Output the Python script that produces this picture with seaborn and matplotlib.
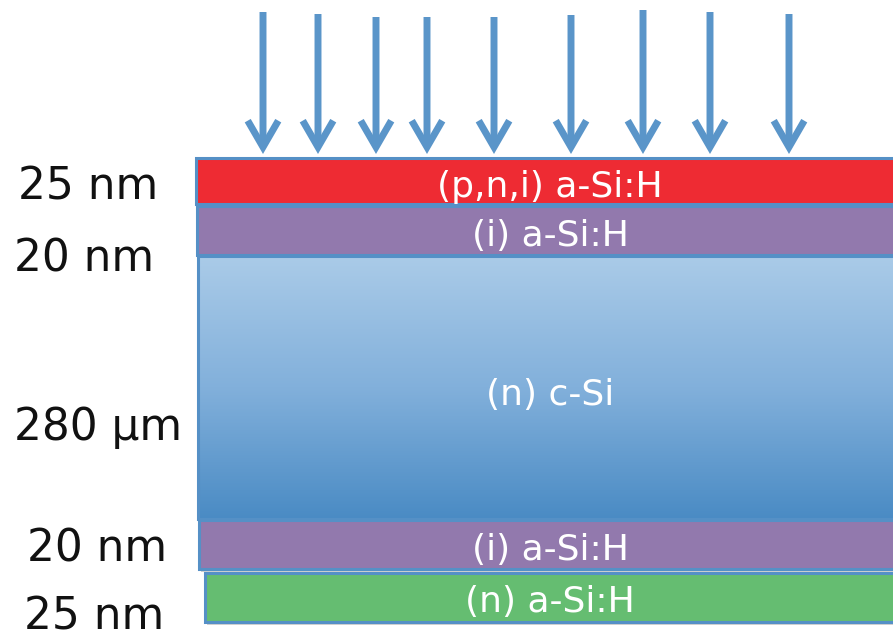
import numpy as np
import matplotlib
matplotlib.use("Agg")
import matplotlib.pyplot as plt
import seaborn as sns
from matplotlib.patches import Rectangle
from matplotlib.colors import LinearSegmentedColormap

# ---- data ----
layer_names = ["(p,n,i) a-Si:H", "(i) a-Si:H", "(n) c-Si", "(i) a-Si:H", "(n) a-Si:H"]
thickness_labels = ["25 nm", "20 nm", "280 µm", "20 nm", "25 nm"]
layer_colors = ["#ee2b33", "#9279ad", "gradient", "#9279ad", "#65bd71"]
layer_top = [158, 206, 256, 520, 573]
layer_bottom = [204, 255, 519, 569, 622]
layer_left = [196, 197, 198, 199, 205]
layer_text_baseline = [197, 246, 405, 560, 612]
label_x = [88, 84, 98, 97, 94]
label_baseline = [200, 271, 440, 561, 630]
arrow_x = [263, 318, 376, 427, 494, 571, 643, 710, 789]
arrow_top = [12, 14, 17, 17, 17, 15, 10, 12, 14]
arrow_tip = 154

# ---- style ----
sns.set_theme(style="white")
plt.rcParams['font.family'] = ['DejaVu Sans']

W, H = 893, 642
fig = plt.figure(figsize=(W / 100, H / 100), dpi=100)
ax = fig.add_axes([0, 0, 1, 1])
ax.set_xlim(0, W)
ax.set_ylim(H, 0)
ax.axis("off")

edge = "#5590c6"
right = W + 10

grad_cmap = LinearSegmentedColormap.from_list("csi", ["#aacbe8", "#82b0db", "#4a8bc4"])

for name, col, top, bot, left, tb in zip(layer_names, layer_colors, layer_top,
                                          layer_bottom, layer_left, layer_text_baseline):
    # soft shadow
    ax.add_patch(Rectangle((left + 2, top + 3), right - left, bot - top,
                           facecolor="#000000", alpha=0.18, edgecolor="none", zorder=1))
    if col == "gradient":
        g = np.linspace(0, 1, 256).reshape(-1, 1)
        im = ax.imshow(g, cmap=grad_cmap, aspect="auto",
                       extent=[left, right, bot, top], zorder=2, interpolation="bilinear")
        rect = Rectangle((left, top), right - left, bot - top, facecolor="none",
                         edgecolor=edge, linewidth=2.2, zorder=3)
        ax.add_patch(rect)
        im.set_clip_path(rect)
    else:
        ax.add_patch(Rectangle((left, top), right - left, bot - top, facecolor=col,
                               edgecolor=edge, linewidth=2.2, zorder=3))
    ax.text(550, tb, name, color="white", fontsize=26, ha="center", va="baseline", zorder=5)

for lab, lx, ly in zip(thickness_labels, label_x, label_baseline):
    ax.text(lx, ly, lab, color="#111111", fontsize=31.5, ha="center", va="baseline")

arrow_col = "#5a95c9"
for x, t in zip(arrow_x, arrow_top):
    ax.annotate("", xy=(x, arrow_tip), xytext=(x, t),
                arrowprops=dict(arrowstyle="->,head_length=0.95,head_width=0.55",
                                color=arrow_col, lw=5, shrinkA=0, shrinkB=0,
                                mutation_scale=20, joinstyle="miter", capstyle="butt"),
                zorder=6)

fig.savefig("out.png", dpi=100, facecolor="white")
